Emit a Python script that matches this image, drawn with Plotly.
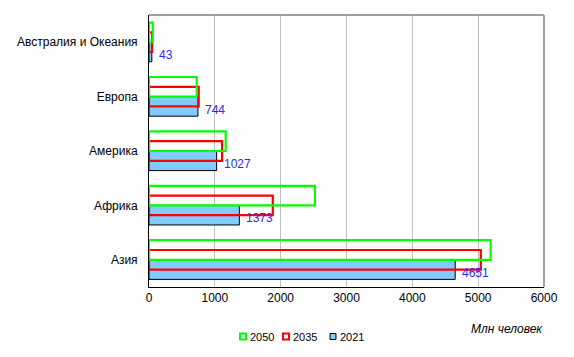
import plotly.graph_objects as go

categories = ["Азия", "Африка", "Америка", "Европа", "Австралия и Океания"]
pop_2021 = [4651, 1373, 1027, 744, 43]
pop_2035 = [5040, 1880, 1110, 755, 48]
pop_2050 = [5190, 2520, 1165, 725, 57]
x_ticks = [0, 1000, 2000, 3000, 4000, 5000, 6000]
legend_years = ["2050", "2035", "2021"]

# figure sits inside the page body (8px default margin)
W, H = 558, 341
ML, MT, MR, MB = 141, 7, 22, 62
PW, PH = W - ML - MR, H - MT - MB

def px(x):
    return (x - ML) / PW

def py(y):
    return (MT + PH - y) / PH

fig = go.Figure()
fig.add_trace(go.Bar(
    y=categories, x=pop_2021, orientation="h", name="2021",
    marker=dict(color="#80CCFF", line=dict(color="#000000", width=1)),
    width=0.36, offset=-0.36, showlegend=False,
))
fig.add_trace(go.Bar(
    y=categories, x=pop_2035, orientation="h", name="2035",
    marker=dict(color="rgba(0,0,0,0)", line=dict(color="#FF0000", width=2.2)),
    width=0.36, offset=-0.18, showlegend=False,
))
fig.add_trace(go.Bar(
    y=categories, x=pop_2050, orientation="h", name="2050",
    marker=dict(color="rgba(0,0,0,0)", line=dict(color="#00FF00", width=2.2)),
    width=0.36, offset=0.0, showlegend=False,
))

# custom legend (small squares + labels)
leg_styles = {
    "2050": dict(fill="white", line="#00FF00", w=2),
    "2035": dict(fill="white", line="#FF0000", w=2),
    "2021": dict(fill="#80CCFF", line="#000000", w=1),
}
leg_x = [232, 275, 322]
shapes = [
    dict(type="line", xref="paper", yref="paper", x0=0, x1=1, y0=1, y1=1,
         line=dict(color="#808080", width=1.5)),
    dict(type="line", xref="paper", yref="paper", x0=1, x1=1, y0=0, y1=1,
         line=dict(color="#808080", width=1.5)),
]
annotations = [dict(text="<i>Млн человек</i>", xref="paper", yref="paper",
                    x=px(537), y=py(321), xanchor="right", yanchor="middle",
                    showarrow=False, font=dict(size=12, color="#000000"))]
for yr, lx in zip(legend_years, leg_x):
    st = leg_styles[yr]
    shapes.append(dict(type="rect", xref="paper", yref="paper",
                       x0=px(lx), x1=px(lx + 6), y0=py(325.5), y1=py(331.5),
                       fillcolor=st["fill"], line=dict(color=st["line"], width=st["w"])))
    annotations.append(dict(text=yr, xref="paper", yref="paper", x=px(lx + 7.5),
                            y=py(328.5), xanchor="left", yanchor="middle",
                            showarrow=False, font=dict(size=11, color="#000000")))

# value labels for 2021
for cat, val in zip(categories, pop_2021):
    annotations.append(dict(text=str(val), x=val, y=cat, xref="x", yref="y",
                            xanchor="left", yanchor="middle", xshift=5, yshift=-13,
                            showarrow=False,
                            font=dict(size=12, color="#2828FF")))

fig.update_layout(
    width=W, height=H,
    margin=dict(l=ML, r=MR, t=MT, b=MB, autoexpand=False),
    barmode="overlay",
    plot_bgcolor="white", paper_bgcolor="white",
    font=dict(family="Liberation Sans, Arial", size=12, color="#000000"),
    showlegend=False,
    xaxis=dict(range=[0, 6000], tickvals=x_ticks, showgrid=True, gridcolor="#C0C0C0",
               gridwidth=1, zeroline=False, showline=True, linecolor="#000000",
               linewidth=1, ticks="", tickfont=dict(size=12), automargin=False),
    yaxis=dict(type="category", categoryorder="array", categoryarray=categories,
               range=[-0.5, 4.5], showgrid=False, zeroline=False, showline=True,
               linecolor="#000000", linewidth=1, ticks="", ticklabelstandoff=8,
               tickfont=dict(size=12), automargin=False),
    annotations=annotations,
    shapes=shapes,
)

fig.write_html("out.html")
